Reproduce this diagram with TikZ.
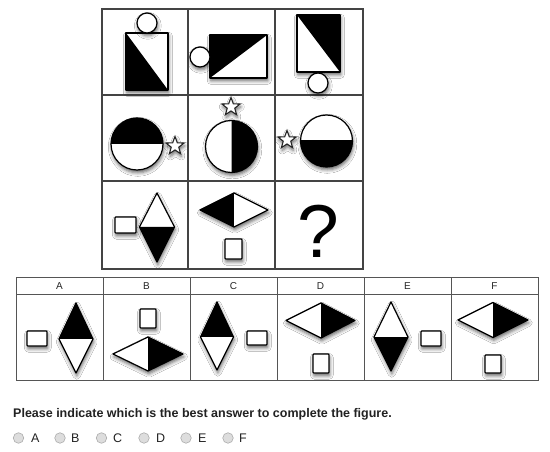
\documentclass[tikz,border=0pt]{standalone}
\usepackage{fontspec}
\setmainfont{Liberation Sans}
\usetikzlibrary{shapes.geometric,shadows.blur}
\definecolor{gridc}{HTML}{444444}
\definecolor{tabc}{HTML}{555555}
\definecolor{radiofill}{HTML}{DDDDDD}
\definecolor{radioline}{HTML}{ABABAB}
\definecolor{txt}{HTML}{222222}
\tikzset{
  shp/.style={line width=1.2pt, draw=black, line join=round},
  shad/.style={blur shadow={shadow xshift=0.8pt, shadow yshift=-2.8pt, shadow blur radius=3.5pt, shadow opacity=60}},
  gridline/.style={draw=gridc, line width=1.4pt},
  tabline/.style={draw=tabc, line width=1pt},
  starshape/.style={star, star points=5, star point ratio=2.4, minimum size=19pt, inner sep=0pt, draw=black!85, line width=1.1pt, fill=white, shad},
  radio/.style={circle, minimum size=10.5pt, inner sep=0pt, fill=radiofill, draw=radioline, line width=0.6pt},
  hdr/.style={font=\fontsize{10}{11}\selectfont, text=black!85},
  rlab/.style={anchor=base west, inner sep=0pt, font=\fontsize{12.5}{15}\selectfont, text=txt},
  sqbox/.style={shp, fill=white, shad, rounded corners=0.8pt}
}
% vertical diamond: cx, ytop, ymid, ybot, halfwidth, top colour, bottom colour
\newcommand{\vdia}[7]{%
  \path[fill=white,shad] (#1,#2) -- (#1+#5,#3) -- (#1,#4) -- (#1-#5,#3) -- cycle;
  \fill[#6] (#1,#2) -- (#1+#5,#3) -- (#1-#5,#3) -- cycle;
  \fill[#7] (#1,#4) -- (#1+#5,#3) -- (#1-#5,#3) -- cycle;
  \draw[shp] (#1,#2) -- (#1+#5,#3) -- (#1,#4) -- (#1-#5,#3) -- cycle;}
% horizontal diamond: cy, xleft, xmid, xright, halfheight, left colour, right colour
\newcommand{\hdia}[7]{%
  \path[fill=white,shad] (#2,#1) -- (#3,#1-#5) -- (#4,#1) -- (#3,#1+#5) -- cycle;
  \fill[#6] (#2,#1) -- (#3,#1-#5) -- (#3,#1+#5) -- cycle;
  \fill[#7] (#4,#1) -- (#3,#1-#5) -- (#3,#1+#5) -- cycle;
  \draw[shp] (#2,#1) -- (#3,#1-#5) -- (#4,#1) -- (#3,#1+#5) -- cycle;}
\begin{document}
\begin{tikzpicture}[x=1pt,y=-1pt]
\fill[white] (0,0) rectangle (550,452);
\useasboundingbox (0,0) rectangle (550,452);

% ---------- grid ----------
\draw[gridline] (102,9) rectangle (363,269);
\draw[gridline] (188,9) -- (188,269);
\draw[gridline] (275,9) -- (275,269);
\draw[gridline] (102,95) -- (363,95);
\draw[gridline] (102,181) -- (363,181);

% row 1
\path[fill=white,shad] (126,33) rectangle (168,90);
\fill (126,33) -- (168,90) -- (126,90) -- cycle;
\draw[shp] (126,33) rectangle (168,90);
\draw[shp,fill=white,shad] (147,23) circle[radius=10pt];

\path[fill=white,shad] (210,35) rectangle (267,78);
\fill (210,35) -- (267,35) -- (210,78) -- cycle;
\draw[shp] (210,35) rectangle (267,78);
\draw[shp,fill=white,shad] (200,57) circle[radius=10pt];

\path[fill=white,shad] (297,15) rectangle (340,72);
\fill (297,15) -- (340,15) -- (340,72) -- cycle;
\draw[shp] (297,15) rectangle (340,72);
\draw[shp,fill=white,shad] (318,83) circle[radius=10pt];

% row 2
\path[fill=white,shad] (137,144) circle[radius=26pt];
\begin{scope}\clip (105,112) rectangle (169,144); \fill (137,144) circle[radius=26pt];\end{scope}
\draw[shp] (137,144) circle[radius=26pt];
\node[starshape] (s1) at (175,146) {};

\path[fill=white,shad] (231.5,146.5) circle[radius=26pt];
\begin{scope}\clip (231.5,115) rectangle (262,178); \fill (231.5,146.5) circle[radius=26pt];\end{scope}
\draw[shp] (231.5,146.5) circle[radius=26pt];
\node[starshape] (s2) at (231,107) {};

\path[fill=white,shad] (326.5,141) circle[radius=26pt];
\begin{scope}\clip (295,141) rectangle (358,172); \fill (326.5,141) circle[radius=26pt];\end{scope}
\draw[shp] (326.5,141) circle[radius=26pt];
\node[starshape] (s3) at (287,140) {};

% row 3
\vdia{157}{193}{227}{262}{17.5}{white}{black}
\draw[sqbox] (115,217) rectangle (136,233);
\hdia{210}{200}{234}{268}{17}{black}{white}
\draw[sqbox] (225,239) rectangle (242,259);
\node[anchor=base, inner sep=0pt, font=\fontsize{75}{80}\selectfont] (qm) at (318,258) {?};

% ---------- answer table ----------
\draw[tabline] (16,277) rectangle (538,380);
\draw[tabline] (16,294) -- (538,294);
\foreach \xx in {103,190,277,364,451} \draw[tabline] (\xx,277) -- (\xx,380);
\node[hdr] (hA) at (59.5,286) {A};
\node[hdr] (hB) at (146.5,286) {B};
\node[hdr] (hC) at (233.5,286) {C};
\node[hdr] (hD) at (320.5,286) {D};
\node[hdr] (hE) at (407.5,286) {E};
\node[hdr] (hF) at (494.5,286) {F};

% A
\draw[sqbox] (27,331) rectangle (47,346);
\vdia{76}{303}{339}{373}{17}{black}{white}
% B
\draw[sqbox] (140,309) rectangle (156,328);
\hdia{354}{113}{148}{183}{17}{white}{black}
% C
\vdia{217}{302}{337}{370}{16.5}{black}{white}
\draw[sqbox] (247,331) rectangle (267,345);
% D
\hdia{320.5}{286}{321}{355}{17.5}{white}{black}
\draw[sqbox] (313,354) rectangle (329,373);
% E
\vdia{391}{302}{337}{371}{17}{white}{black}
\draw[sqbox] (421,331) rectangle (441,346);
% F
\hdia{320}{458}{493}{528}{17.5}{white}{black}
\draw[sqbox] (485,355) rectangle (501,373);

% ---------- question ----------
\node[anchor=base west, inner sep=0pt, font=\fontsize{12.5}{15}\selectfont\bfseries, text=txt] (q) at (13,417) {Please indicate which is the best answer to complete the figure.};

\node[radio] (rA) at (18.5,438) {};
\node[rlab] (lA) at (31,442.5) {A};
\node[radio] (rB) at (60,438) {};
\node[rlab] (lB) at (71,442.5) {B};
\node[radio] (rC) at (101.5,438) {};
\node[rlab] (lC) at (113,442.5) {C};
\node[radio] (rD) at (144,438) {};
\node[rlab] (lD) at (156,442.5) {D};
\node[radio] (rE) at (186,438) {};
\node[rlab] (lE) at (198,442.5) {E};
\node[radio] (rF) at (228,438) {};
\node[rlab] (lF) at (239,442.5) {F};
\end{tikzpicture}
\end{document}
